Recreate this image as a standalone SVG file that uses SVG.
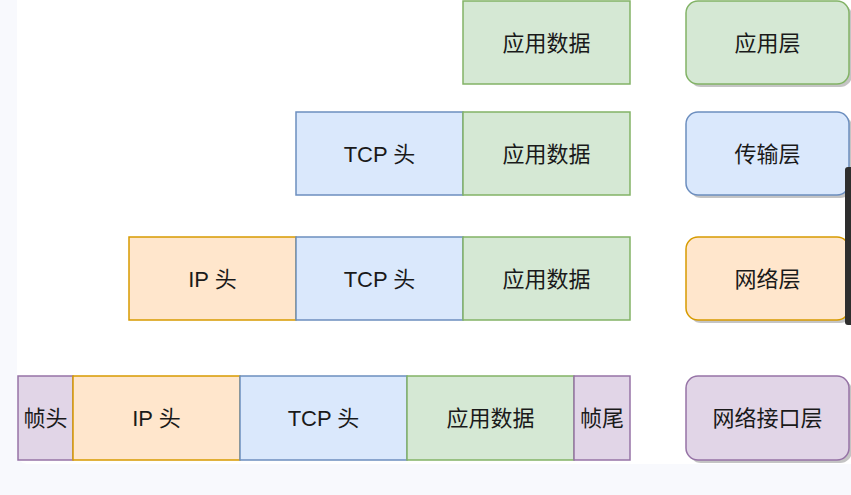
<svg xmlns="http://www.w3.org/2000/svg" width="851" height="495" viewBox="0 0 851 495">
<defs>
<style>
.t{font-family:"Liberation Sans","Noto Sans CJK SC",sans-serif;font-size:22px;fill:#1a1a1a;text-anchor:middle;dominant-baseline:central}
.g{fill:#d5e8d4;stroke:#82b366;stroke-width:1.5}
.b{fill:#dae8fc;stroke:#6c8ebf;stroke-width:1.5}
.o{fill:#ffe6cc;stroke:#d79b00;stroke-width:1.5}
.p{fill:#e1d5e7;stroke:#9673a6;stroke-width:1.5}
.sh{fill:#c4c4c4}
</style>
</defs>
<rect x="0" y="0" width="851" height="495" fill="#f8f9fd"/>
<rect x="17" y="-12" width="850" height="476" rx="10" fill="#ffffff"/>

<g id="row1">
<g id="r1-app"><rect class="g" x="463" y="1" width="167" height="83"/><text class="t" x="546.5" y="43">应用数据</text></g>
<g id="layer-app"><rect class="sh" x="689" y="4" width="163" height="83" rx="12"/><rect class="g" x="686" y="1" width="163" height="83" rx="12"/><text class="t" x="767.5" y="43">应用层</text></g>
</g>

<g id="row2">
<g id="r2-tcp"><rect class="b" x="296" y="112" width="167" height="83"/><text class="t" x="379.5" y="154">TCP 头</text></g>
<g id="r2-app"><rect class="g" x="463" y="112" width="167" height="83"/><text class="t" x="546.5" y="154">应用数据</text></g>
<g id="layer-transport"><rect class="sh" x="689" y="115" width="163" height="83" rx="12"/><rect class="b" x="686" y="112" width="163" height="83" rx="12"/><text class="t" x="767.5" y="154">传输层</text></g>
</g>

<g id="row3">
<g id="r3-ip"><rect class="o" x="129" y="237" width="167" height="83"/><text class="t" x="212.5" y="279">IP 头</text></g>
<g id="r3-tcp"><rect class="b" x="296" y="237" width="167" height="83"/><text class="t" x="379.5" y="279">TCP 头</text></g>
<g id="r3-app"><rect class="g" x="463" y="237" width="167" height="83"/><text class="t" x="546.5" y="279">应用数据</text></g>
<g id="layer-network"><rect class="sh" x="689" y="240" width="163" height="83" rx="12"/><rect class="o" x="686" y="237" width="163" height="83" rx="12"/><text class="t" x="767.5" y="279">网络层</text></g>
</g>

<g id="row4">
<g id="r4-fh"><rect class="p" x="18" y="376" width="55" height="84"/><text class="t" x="45.5" y="418">帧头</text></g>
<g id="r4-ip"><rect class="o" x="73" y="376" width="167" height="84"/><text class="t" x="156.5" y="418">IP 头</text></g>
<g id="r4-tcp"><rect class="b" x="240" y="376" width="167" height="84"/><text class="t" x="323.5" y="418">TCP 头</text></g>
<g id="r4-app"><rect class="g" x="407" y="376" width="167" height="84"/><text class="t" x="490.5" y="418">应用数据</text></g>
<g id="r4-ft"><rect class="p" x="574" y="376" width="56" height="84"/><text class="t" x="602" y="418">帧尾</text></g>
<g id="layer-link"><rect class="sh" x="689" y="379" width="163" height="84" rx="12"/><rect class="p" x="686" y="376" width="163" height="84" rx="12"/><text class="t" x="767.5" y="418">网络接口层</text></g>
</g>

<g id="connectors"></g>

<rect x="845" y="167" width="8" height="158" rx="3" fill="#2e2e2e"/>
</svg>
